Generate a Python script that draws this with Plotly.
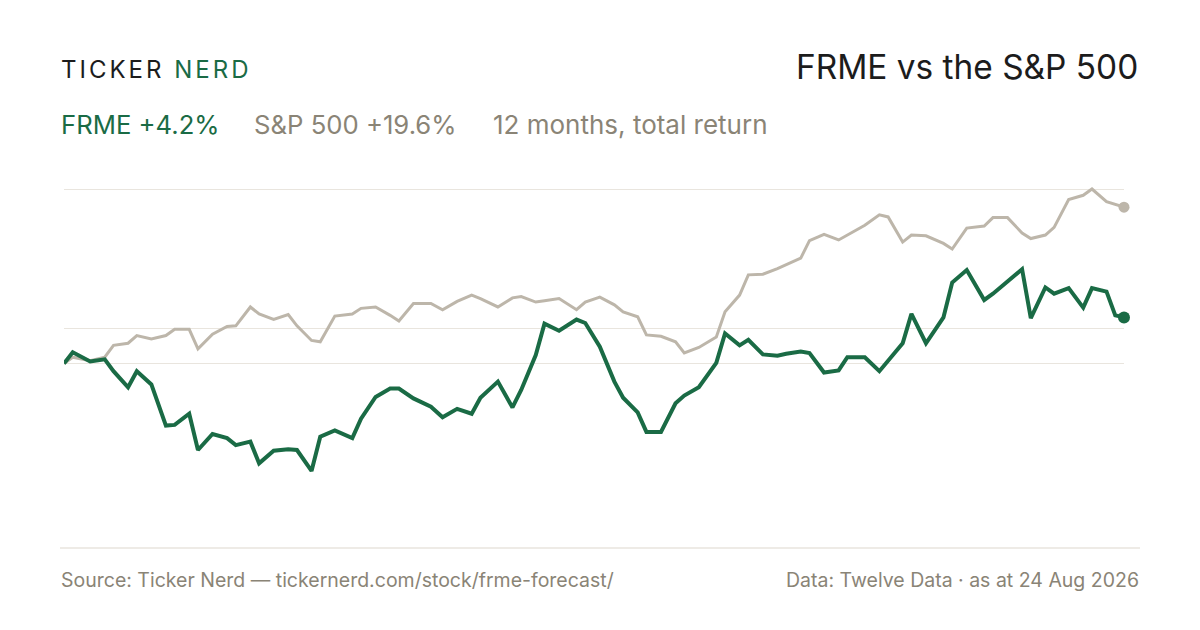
import plotly.graph_objects as go

# ---- data ----
dates = ["2025-08-25","2025-08-28","2025-09-03","2025-09-08","2025-09-11","2025-09-16","2025-09-19","2025-09-24","2025-09-29",
         "2025-10-02","2025-10-07","2025-10-10","2025-10-15","2025-10-20","2025-10-23","2025-10-28","2025-10-31",
         "2025-11-05","2025-11-10","2025-11-13","2025-11-18","2025-11-21","2025-11-26",
         "2025-12-02","2025-12-05","2025-12-10","2025-12-15","2025-12-18","2025-12-23","2025-12-29",
         "2026-01-02","2026-01-07","2026-01-12","2026-01-15","2026-01-21","2026-01-26","2026-01-29",
         "2026-02-03","2026-02-06","2026-02-11","2026-02-17","2026-02-20","2026-02-25",
         "2026-03-02","2026-03-05","2026-03-10","2026-03-13","2026-03-18","2026-03-23","2026-03-26","2026-03-31",
         "2026-04-06","2026-04-09","2026-04-14","2026-04-17","2026-04-22","2026-04-27","2026-04-30",
         "2026-05-05","2026-05-08","2026-05-13","2026-05-18","2026-05-21","2026-05-27",
         "2026-06-01","2026-06-04","2026-06-09","2026-06-12","2026-06-17","2026-06-23","2026-06-26",
         "2026-07-01","2026-07-07","2026-07-10","2026-07-15","2026-07-20","2026-07-23","2026-07-28","2026-07-31",
         "2026-08-05","2026-08-10","2026-08-13","2026-08-18","2026-08-21","2026-08-24"]

spx = [0.0, 0.9,
       0.4, 0.9, 2.6, 2.9, 4.0, 3.5, 4.0,
       4.9, 4.9, 2.1, 4.2, 5.3, 5.4, 8.1, 7.1,
       6.3, 7.0, 5.4, 3.3, 3.1, 6.8,
       7.1, 7.9, 8.1, 6.9, 6.1, 8.6, 8.6,
       7.7, 8.9, 9.8, 9.3, 8.1, 9.4, 9.6,
       8.8, 9.0, 9.3, 7.7, 8.8, 9.5,
       8.4, 7.4, 6.7, 4.1, 3.9, 3.1, 1.5, 2.3,
       3.8, 7.4, 9.8, 12.7, 12.8, 13.6, 14.2,
       15.1, 17.6, 18.5, 17.7, 18.4, 19.8,
       21.3, 21.0, 17.4, 18.4, 18.3, 17.2, 16.4,
       19.4, 19.7, 20.9, 20.9, 18.7, 17.9, 18.4, 19.5,
       23.5, 24.1, 25.0, 23.2, 22.8, 22.4]

frme = [0.0, 1.6,
        0.3, 0.6, -1.1, -3.4, -1.1, -3.0, -8.9,
        -8.8, -7.2, -12.4, -10.1, -10.7, -11.7, -11.2, -14.3,
        -12.5, -12.3, -12.4, -15.4, -10.5, -9.6,
        -10.7, -7.9, -4.8, -3.6, -3.6, -5.0, -6.2,
        -7.7, -6.5, -7.2, -4.9, -2.6, -6.3, -3.8,
        1.2, 5.7, 4.7, 6.3, 5.8, 2.4,
        -2.6, -4.9, -7.0, -9.8, -9.8, -5.7, -4.6, -3.4,
        0.1, 4.3, 2.6, 3.4, 1.3, 1.1, 1.4,
        1.7, 1.5, -1.3, -1.0, 0.9, 0.9,
        -1.1, 0.4, 2.9, 7.1, 2.9, 6.6, 11.6,
        13.4, 9.1, 10.0, 11.7, 13.5, 6.5, 10.9, 10.0,
        10.8, 8.0, 10.8, 10.3, 6.9, 6.6]

grid_vals = [0, 5, 25]

# ---- styles ----
GREEN = "#1a6b45"
GRAY_LINE = "#bdb6aa"
GRAY_TEXT = "#8a8476"
DARK = "#1c1c1c"
FONT = "Inter"

W, H = 1200, 630
OFF = 8  # page body margin offset
ML = 64 - OFF
MR = W - (1124 - OFF)
MT = 180 - OFF
MB = H - (540 - OFF)
PW, PH = W - ML - MR, H - MT - MB


def px(x):
    return (x - OFF - ML) / PW


def py(y):
    return (H - MB - (y - OFF)) / PH


fig = go.Figure()
fig.add_trace(go.Scatter(x=dates, y=spx, mode="lines",
                         line=dict(color=GRAY_LINE, width=3), hoverinfo="skip"))
fig.add_trace(go.Scatter(x=dates, y=frme, mode="lines",
                         line=dict(color=GREEN, width=4), hoverinfo="skip"))
fig.add_trace(go.Scatter(x=[dates[-1]], y=[spx[-1]], mode="markers", cliponaxis=False,
                         marker=dict(color=GRAY_LINE, size=11), hoverinfo="skip"))
fig.add_trace(go.Scatter(x=[dates[-1]], y=[frme[-1]], mode="markers", cliponaxis=False,
                         marker=dict(color=GREEN, size=12), hoverinfo="skip"))

annotations = [
    dict(text='<span style="letter-spacing:3px">TICKER</span><span style="letter-spacing:3px;color:%s"> NERD</span>' % GREEN,
         x=px(60), y=py(70), xanchor="left", yanchor="middle",
         font=dict(family=FONT, size=24, color=DARK)),
    dict(text="FRME vs the S&P 500", x=px(1139), y=py(67), xanchor="right", yanchor="middle",
         font=dict(family=FONT, size=33.4, color=DARK)),
    dict(text="FRME +4.2%", x=px(60), y=py(124), xanchor="left", yanchor="middle",
         font=dict(family=FONT, size=25.7, color=GREEN)),
    dict(text="S&P 500 +19.6%", x=px(253), y=py(124), xanchor="left", yanchor="middle",
         font=dict(family=FONT, size=25.7, color=GRAY_TEXT)),
    dict(text="12 months, total return", x=px(492), y=py(124), xanchor="left", yanchor="middle",
         font=dict(family=FONT, size=26, color=GRAY_TEXT)),
    dict(text="Source: Ticker Nerd — tickernerd.com/stock/frme-forecast/", x=px(60), y=py(580),
         xanchor="left", yanchor="middle", font=dict(family=FONT, size=19.5, color=GRAY_TEXT)),
    dict(text="Data: Twelve Data · as at 24 Aug 2026", x=px(1140), y=py(580),
         xanchor="right", yanchor="middle", font=dict(family=FONT, size=19.5, color=GRAY_TEXT)),
]
for a in annotations:
    a.update(xref="paper", yref="paper", showarrow=False, borderpad=0)

fig.update_layout(
    width=W, height=H,
    margin=dict(l=ML, r=MR, t=MT, b=MB, pad=0),
    paper_bgcolor="white", plot_bgcolor="white",
    showlegend=False,
    annotations=annotations,
    shapes=[dict(type="line", xref="paper", yref="paper", x0=px(60), x1=px(1140), y0=py(548), y1=py(548),
                 line=dict(color="#ddd8cd", width=1.2))],
    xaxis=dict(type="date", range=[dates[0], dates[-1]], showgrid=False, showticklabels=False,
               zeroline=False, showline=False, ticks=""),
    yaxis=dict(range=[-25.29, 26.29], tickvals=grid_vals, showticklabels=False, showgrid=True,
               gridcolor="#e9e5de", gridwidth=1.2, zeroline=False, showline=False, ticks=""),
)

fig.write_html("out.html")
